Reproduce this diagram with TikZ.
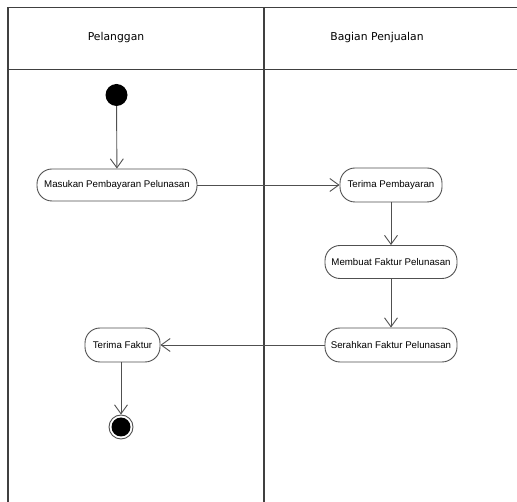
\documentclass[tikz,border=0pt]{standalone}
\usepackage{fontspec}
\setmainfont{Liberation Sans}
\newfontfamily\headfont{DejaVu Sans}
\usetikzlibrary{arrows.meta}
\definecolor{edge}{HTML}{505050}
\definecolor{frame}{HTML}{404040}
\begin{document}
\begin{tikzpicture}[x=1pt,y=-1pt,
  lane/.style={draw=frame,line width=1.4pt},
  act/.style={draw=edge,line width=0.9pt,rounded corners=15pt,
    inner sep=0pt,font=\fontsize{9.7}{11}\selectfont},
  flow/.style={draw=edge,line width=0.9pt,
    -{Straight Barb[length=9pt,width=13pt,line width=0.9pt]}},
  head/.style={font=\headfont\fontsize{10.8}{12}\selectfont}]
\useasboundingbox (0,0) rectangle (517,502);
% swimlane frame
\draw[lane] (8,502) -- (8,7.5) -- (517,7.5);
\draw[lane] (8,69.5) -- (517,69.5);
\draw[lane] (264,7.5) -- (264,502);
\node[head] (hA) at (116,38) {Pelanggan};
\node[head] (hB) at (377,38) {Bagian Penjualan};
% start and end
\node[circle,fill=black,minimum size=22pt,inner sep=0pt] (start) at (116.5,95) {};
\node[circle,draw=edge,line width=0.9pt,minimum size=24pt,inner sep=0pt] (stop) at (121,427) {};
\node[circle,fill=black,minimum size=19pt,inner sep=0pt] (stopin) at (121,427) {};
% activities
\node[act,minimum width=160pt,minimum height=32pt] (a1) at (117,185) {Masukan Pembayaran Pelunasan};
\node[act,minimum width=102pt,minimum height=34pt] (a2) at (391,185) {Terima Pembayaran};
\node[act,minimum width=132pt,minimum height=33pt] (a3) at (391,262) {Membuat Faktur Pelunasan};
\node[act,minimum width=132pt,minimum height=34pt] (a4) at (391,345) {Serahkan Faktur Pelunasan};
\node[act,minimum width=75pt,minimum height=34pt] (a5) at (122.5,345) {Terima Faktur};
% flows
\draw[flow] (start) -- (a1);
\draw[flow] (a1) -- (a2);
\draw[flow] (a2) -- (a3);
\draw[flow] (a3) -- (a4);
\draw[flow] (a4) -- (a5);
\draw[flow] (a5.south -| stop) -- (stop);
\end{tikzpicture}
\end{document}
